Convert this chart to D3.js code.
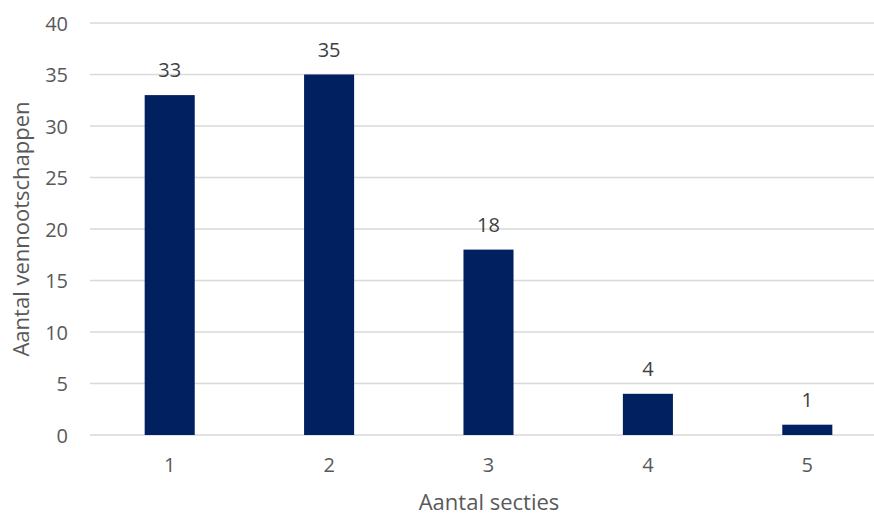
<!DOCTYPE html>
<html><head><meta charset="utf-8">
<script src="https://cdn.jsdelivr.net/npm/d3@7"></script>
<style>body{margin:0;background:#fff}svg{display:block}text{font-family:"Open Sans",sans-serif}</style>
</head><body><svg id="c" width="874" height="516"></svg>
<script>
const categories = ["1","2","3","4","5"];
const values = [33,35,18,4,1];
const yTicks = [0,5,10,15,20,25,30,35,40];
const xTitle = "Aantal secties";
const yTitle = "Aantal vennootschappen";

const svg = d3.select("#c");
const x = d3.scaleBand().domain(categories).range([90,887]).paddingInner(0.686).paddingOuter(0.343);
const y = d3.scaleLinear().domain([0,40]).range([435,23]);

svg.append("g").selectAll("line").data(yTicks).join("line")
  .attr("x1",90).attr("x2",874).attr("y1",d=>y(d)).attr("y2",d=>y(d))
  .attr("stroke","#d9d9d9").attr("stroke-width",1.5);

const yAxis = svg.append("g").attr("transform","translate(68,1)")
  .call(d3.axisLeft(y).tickValues(yTicks).tickSize(0).tickPadding(0));
yAxis.select(".domain").remove();
yAxis.selectAll("text").attr("font-size",20).attr("fill","#595959").attr("font-family","Open Sans");

const xAxis = svg.append("g").attr("transform","translate(0,458)")
  .call(d3.axisBottom(x).tickSize(0).tickPadding(0));
xAxis.select(".domain").remove();
xAxis.selectAll("text").attr("font-size",20).attr("fill","#595959").attr("font-family","Open Sans");

svg.append("g").selectAll("text").data(values).join("text")
  .attr("x",(d,i)=>x(categories[i])+x.bandwidth()/2).attr("y",d=>y(d)-18)
  .attr("text-anchor","middle").attr("font-size",20).attr("fill","#404040").text(d=>d);

svg.append("g").selectAll("rect").data(values).join("rect")
  .attr("x",(d,i)=>x(categories[i])).attr("width",x.bandwidth())
  .attr("y",d=>y(d)).attr("height",d=>y(0)-y(d)).attr("fill","#002060");

svg.append("text").attr("x",489).attr("y",510).attr("text-anchor","middle")
  .attr("font-size",22).attr("fill","#595959").text(xTitle);
svg.append("text").attr("transform","translate(29,229) rotate(-90)").attr("text-anchor","middle")
  .attr("font-size",22).attr("fill","#595959").text(yTitle);
</script></body></html>
